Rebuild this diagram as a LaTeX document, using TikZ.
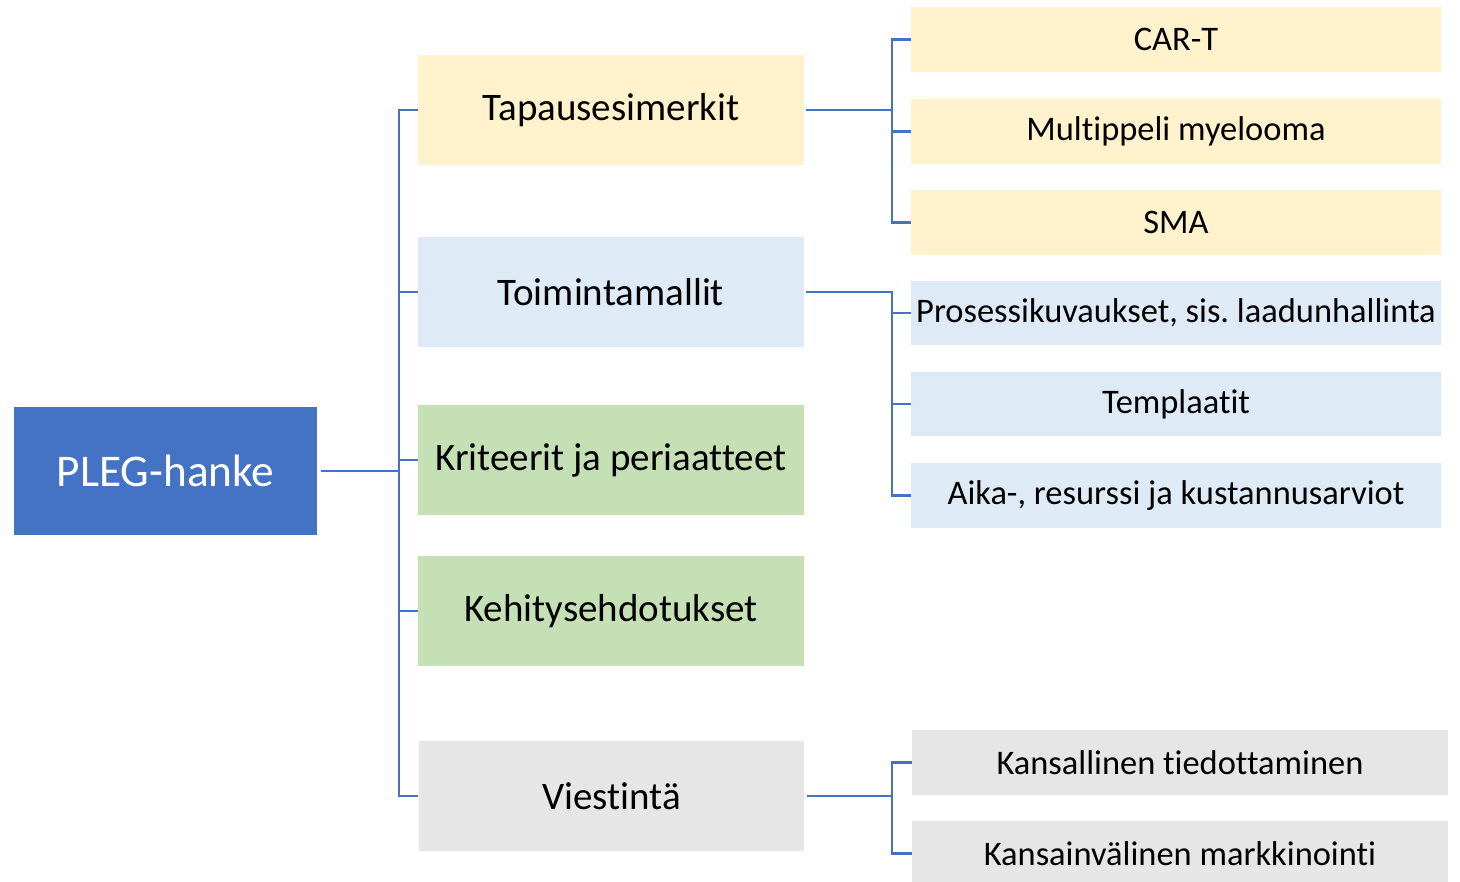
\documentclass[tikz,border=0pt]{standalone}
\usepackage{fontspec}
\setmainfont{Carlito}[Ligatures=NoCommon]
\usepackage{xcolor}
\usetikzlibrary{positioning, calc}
\frenchspacing

\definecolor{rootblue}{HTML}{4472C4}
\definecolor{tapfill}{HTML}{FFF2CC}
\definecolor{toifill}{HTML}{DEEBF7}
\definecolor{krifill}{HTML}{C5E0B4}
\definecolor{viefill}{HTML}{E6E6E6}

\begin{document}
\begin{tikzpicture}[
    x=0.02cm, y=-0.02cm,
    root/.style={fill=rootblue, text=white, minimum width=6.06cm, minimum height=2.56cm, inner sep=0pt, font=\fontsize{25.8}{29}\selectfont},
    topic/.style={minimum width=7.72cm, minimum height=2.2cm, inner sep=0pt, font=\fontsize{22.2}{25}\selectfont},
    item/.style={minimum width=10.6cm, minimum height=1.3cm, inner sep=0pt, font=\fontsize{19.6}{22}\selectfont},
    link/.style={draw=rootblue, line width=1.2pt}
]
    \useasboundingbox (0,0) rectangle (1460,882);

    % Root
    \node[root] (P) at (165.5,471) {PLEG-hanke};

    % Topics
    \node[topic, fill=tapfill] (T1) at (611,110) {Tapausesimerkit};
    \node[topic, fill=toifill] (T2) at (611,292) {Toimintamallit};
    \node[topic, fill=krifill] (T3) at (611,460) {Kriteerit ja periaatteet};
    \node[topic, fill=krifill] (T4) at (611,611) {Kehitysehdotukset};
    \node[topic, fill=viefill] (T5) at (611.5,796) {Viestintä};

    % Items
    \node[item, fill=tapfill] (I1) at (1176,39.5) {CAR-T};
    \node[item, fill=tapfill] (I2) at (1176,131.5) {Multippeli myelooma};
    \node[item, fill=tapfill] (I3) at (1176,222.5) {SMA};
    \node[item, fill=toifill] (I4) at (1176,313) {Prosessikuvaukset, sis. laadunhallinta};
    \node[item, fill=toifill] (I5) at (1176,404) {Templaatit};
    \node[item, fill=toifill] (I6) at (1176,495.5) {Aika-, resurssi ja kustannusarviot};
    \node[item, fill=viefill, minimum width=10.72cm] (I7) at (1180,762.5) {Kansallinen tiedottaminen};
    \node[item, fill=viefill, minimum width=10.72cm] (I8) at (1180,853.5) {Kansainvälinen markkinointi};

    % Trunks
    \coordinate (J0) at (399,0);
    \coordinate (J1) at (892,0);

    % Root to topics
    \foreach \t in {T1,T2,T3,T4,T5}
        \draw[link] ([xshift=2pt]P.east) -- (P.east -| J0) |- (\t.west);

    % Topics to items
    \foreach \i in {I1,I2,I3}
        \draw[link] ([xshift=1pt]T1.east) -- (T1.east -| J1) |- (\i.west);
    \foreach \i in {I4,I5,I6}
        \draw[link] ([xshift=1pt]T2.east) -- (T2.east -| J1) |- (\i.west);
    \foreach \i in {I7,I8}
        \draw[link] ([xshift=1pt]T5.east) -- (T5.east -| J1) |- (\i.west);
\end{tikzpicture}
\end{document}
